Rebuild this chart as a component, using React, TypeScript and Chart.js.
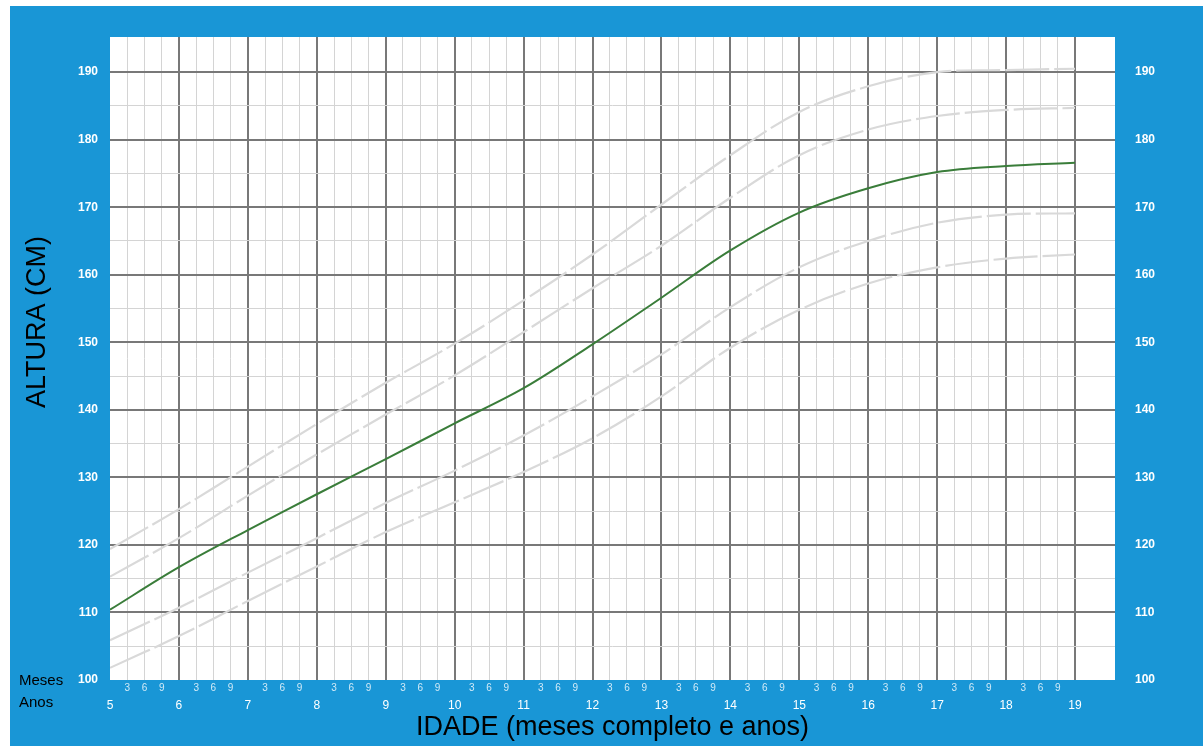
import React, { useEffect, useRef } from 'react';
import { Chart, registerables } from 'chart.js';

Chart.register(...registerables);

// Ages in years (x axis) and the month labels shown between years
const years = [5, 6, 7, 8, 9, 10, 11, 12, 13, 14, 15, 16, 17, 18, 19];
const monthLabels = ['3', '6', '9'];
// Height ticks (cm)
const heightTicks = [100, 105, 110, 115, 120, 125, 130, 135, 140, 145, 150, 155, 160, 165, 170, 175, 180, 185, 190];

// Reference percentile curves (light gray) and the child's curve (green)
const curveTop = [119.4, 125.3, 131.6, 137.9, 144.0, 149.8, 156.2, 163.0, 170.4, 177.7, 184.1, 187.9, 190.0, 190.3, 190.5];
const curveUpper = [115.3, 121.0, 127.3, 133.4, 139.3, 145.1, 151.5, 158.0, 164.3, 171.4, 177.7, 181.5, 183.5, 184.4, 184.7];
const curveMedian = [110.4, 116.7, 122.2, 127.5, 132.7, 138.0, 143.2, 149.7, 156.6, 163.6, 169.2, 172.8, 175.2, 176.1, 176.6];
const curveLower = [105.9, 110.7, 115.9, 121.0, 126.2, 131.0, 136.2, 142.0, 148.2, 155.2, 161.1, 165.0, 167.7, 168.9, 169.1];
const curveBottom = [101.8, 106.5, 111.7, 116.8, 121.9, 126.3, 130.8, 135.8, 142.0, 149.2, 154.8, 158.7, 161.1, 162.4, 163.0];

const FONT = '"Liberation Sans", Arial, sans-serif';
const BLUE = '#1996d6';
const MAJOR = '#787878';
const MINOR = '#d4d4d4';
const CLEAR = 'rgba(0,0,0,0)';

const X_MIN = 5;
const X_MAX = 19.58;
const Y_MIN = 100;
const Y_MAX = 195.2;

function toPoints(values: number[]) {
  return years.map((x, i) => ({ x, y: values[i] }));
}

const quarterTicks: number[] = [];
years.forEach((yr, i) => {
  quarterTicks.push(yr);
  if (i < years.length - 1) {
    monthLabels.forEach((_, k) => quarterTicks.push(yr + (k + 1) / 4));
  }
});

const decor = {
  id: 'decor',
  beforeDraw(chart: any) {
    const { ctx, chartArea } = chart;
    ctx.save();
    ctx.fillStyle = '#ffffff';
    ctx.fillRect(chartArea.left, chartArea.top, chartArea.right - chartArea.left, chartArea.bottom - chartArea.top);
    ctx.restore();
  },
  afterDraw(chart: any) {
    const { ctx, chartArea } = chart;
    ctx.save();
    ctx.fillStyle = '#000000';
    ctx.textBaseline = 'middle';
    ctx.textAlign = 'left';
    ctx.font = `15px ${FONT}`;
    ctx.fillText('Meses', 9, chartArea.bottom + 1);
    ctx.fillText('Anos', 9, chartArea.bottom + 23);
    ctx.translate(28, 316);
    ctx.rotate(-Math.PI / 2);
    ctx.textAlign = 'center';
    ctx.font = `27px ${FONT}`;
    ctx.fillText('ALTURA (CM)', 0, 0);
    ctx.restore();
  },
};

export default function App() {
  const canvasRef = useRef<HTMLCanvasElement | null>(null);

  useEffect(() => {
    if (!canvasRef.current) return;
    const grayDs = (label: string, values: number[]) => ({
      label,
      data: toPoints(values),
      borderColor: '#d9d9d9',
      borderWidth: 2.2,
      borderDash: [44, 5],
      pointRadius: 0,
      tension: 0.35,
      fill: false,
    });
    const chart = new Chart(canvasRef.current, {
      type: 'line',
      data: {
        datasets: [
          grayDs('P97', curveTop),
          grayDs('P85', curveUpper),
          grayDs('P15', curveLower),
          grayDs('P3', curveBottom),
          {
            label: 'Altura',
            data: toPoints(curveMedian),
            borderColor: '#3a7d3a',
            borderWidth: 2,
            pointRadius: 0,
            tension: 0.35,
            fill: false,
          },
        ],
      },
      options: {
        responsive: false,
        animation: false,
        devicePixelRatio: 1,
        layout: { padding: { top: 31, left: 0, right: 0, bottom: 0 } },
        plugins: {
          legend: { display: false },
          tooltip: { enabled: false },
          title: { display: false },
        },
        scales: {
          x: {
            type: 'linear',
            position: 'bottom',
            min: X_MIN,
            max: X_MAX,
            afterBuildTicks: (scale: any) => {
              scale.ticks = quarterTicks.map((v) => ({ value: v }));
            },
            afterFit: (scale: any) => {
              scale.height = 16;
            },
            border: { display: false },
            grid: {
              drawTicks: false,
              color: (c: any) => {
                const v = c.tick ? c.tick.value : 0;
                if (v <= X_MIN || v > 19) return CLEAR;
                return Number.isInteger(v) ? MAJOR : MINOR;
              },
              lineWidth: (c: any) => {
                const v = c.tick ? c.tick.value : 0;
                return Number.isInteger(v) ? 2 : 1;
              },
            },
            ticks: {
              autoSkip: false,
              maxRotation: 0,
              padding: 2,
              color: 'rgba(255,255,255,0.8)',
              font: { family: FONT, size: 10 },
              callback: (value: any) => {
                const v = Number(value);
                const q = Math.round((v - Math.floor(v)) * 4);
                if (q === 0) return '';
                return monthLabels[q - 1];
              },
            },
          },
          x2: {
            type: 'linear',
            position: 'bottom',
            min: X_MIN,
            max: X_MAX,
            afterBuildTicks: (scale: any) => {
              scale.ticks = years.map((v) => ({ value: v }));
            },
            afterFit: (scale: any) => {
              scale.height = 50;
            },
            border: { display: false },
            grid: { display: false, drawTicks: false },
            ticks: {
              autoSkip: false,
              maxRotation: 0,
              padding: 2,
              color: '#ffffff',
              font: { family: FONT, size: 12 },
              callback: (value: any) => String(value),
            },
            title: {
              display: true,
              text: 'IDADE (meses completo e anos)',
              color: '#000000',
              font: { family: FONT, size: 27 },
              padding: { top: 0, bottom: 2 },
            },
          },
          y: {
            type: 'linear',
            position: 'left',
            min: Y_MIN,
            max: Y_MAX,
            afterBuildTicks: (scale: any) => {
              scale.ticks = heightTicks.map((v) => ({ value: v }));
            },
            afterFit: (scale: any) => {
              scale.width = 100;
            },
            border: { display: false },
            grid: {
              drawTicks: false,
              color: (c: any) => {
                const v = c.tick ? c.tick.value : 0;
                if (v <= Y_MIN) return CLEAR;
                return v % 10 === 0 ? MAJOR : MINOR;
              },
              lineWidth: (c: any) => {
                const v = c.tick ? c.tick.value : 0;
                return v % 10 === 0 ? 2 : 1;
              },
            },
            ticks: {
              autoSkip: false,
              padding: 12,
              color: '#ffffff',
              font: { family: FONT, size: 12, weight: 'bold' },
              callback: (value: any) => (Number(value) % 10 === 0 ? String(value) : ''),
            },
          },
          y2: {
            type: 'linear',
            position: 'right',
            min: Y_MIN,
            max: Y_MAX,
            afterBuildTicks: (scale: any) => {
              scale.ticks = heightTicks.map((v) => ({ value: v }));
            },
            afterFit: (scale: any) => {
              scale.width = 88;
            },
            border: { display: false },
            grid: { display: false, drawTicks: false },
            ticks: {
              autoSkip: false,
              padding: 20,
              color: '#ffffff',
              font: { family: FONT, size: 12, weight: 'bold' },
              callback: (value: any) => (Number(value) % 10 === 0 ? String(value) : ''),
            },
          },
        },
      },
      plugins: [decor],
    } as any);
    return () => chart.destroy();
  }, []);

  return (
    <div
      style={{
        position: 'absolute',
        left: 10,
        top: 6,
        width: 1193,
        height: 740,
        background: BLUE,
      }}
    >
      <canvas ref={canvasRef} width={1193} height={740} style={{ width: 1193, height: 740, display: 'block' }} />
    </div>
  );
}
